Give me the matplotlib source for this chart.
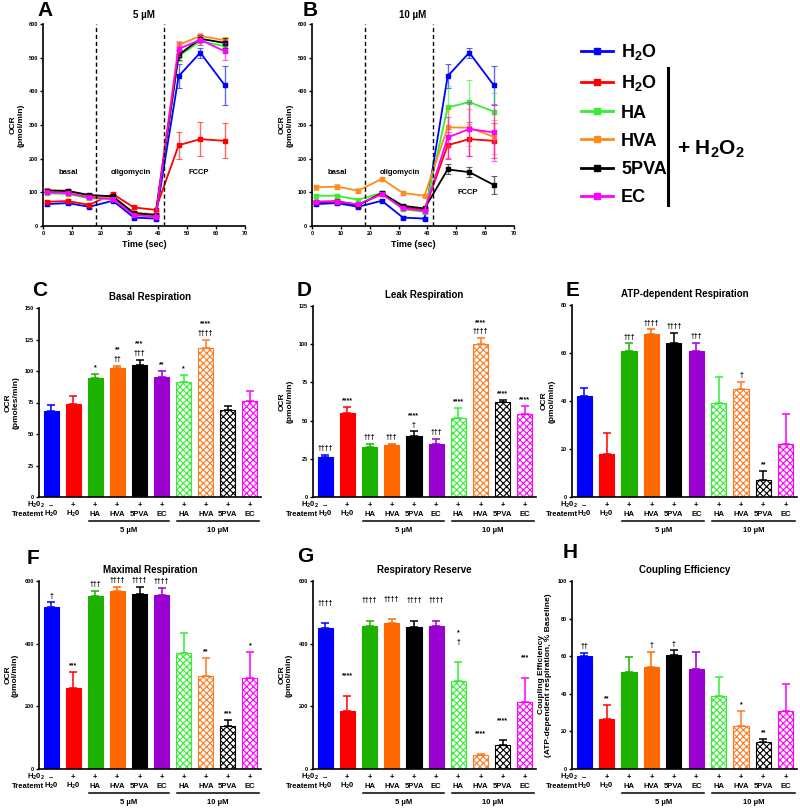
import numpy as np
import matplotlib.pyplot as plt
from matplotlib.lines import Line2D

plt.rcParams['font.family'] = ['Liberation Sans', 'DejaVu Sans']
plt.rcParams['font.weight'] = 'bold'
plt.rcParams['axes.labelweight'] = 'bold'
plt.rcParams['axes.titleweight'] = 'bold'
plt.rcParams['mathtext.fontset'] = 'custom'
plt.rcParams['mathtext.rm'] = 'Liberation Sans:bold'
plt.rcParams['mathtext.it'] = 'Liberation Sans:bold'
plt.rcParams['mathtext.bf'] = 'Liberation Sans:bold'
plt.rcParams['mathtext.default'] = 'rm'
plt.rcParams['hatch.linewidth'] = 0.8

# ---- time course data (OCR, pmol/min) ----
time = [1.3, 8.6, 16.0, 24.2, 31.5, 39.0, 47.0, 54.5, 63.0]
series_names = ['H$_2$O', 'H$_2$O', 'HA', 'HVA', '5PVA', 'EC']
line_colors = ['#0000FF', '#FF0000', '#33EE33', '#FF8C1A', '#000000', '#FF00FF']

a_vals = [
    [65, 68, 57, 75, 25, 22, 445, 515, 418],
    [72, 74, 63, 95, 55, 48, 240, 258, 253],
    [97, 95, 82, 80, 35, 30, 504, 549, 534],
    [107, 105, 88, 83, 40, 35, 538, 564, 552],
    [105, 104, 92, 88, 38, 33, 508, 556, 544],
    [100, 98, 85, 80, 32, 28, 526, 553, 519],
]
a_errs = [
    [5, 5, 5, 5, 4, 4, 35, 15, 58],
    [6, 6, 5, 6, 4, 4, 40, 50, 52],
    [5, 5, 5, 5, 4, 4, 15, 12, 18],
    [5, 5, 5, 5, 4, 4, 12, 8, 10],
    [5, 5, 5, 5, 4, 4, 15, 10, 15],
    [5, 5, 5, 5, 4, 4, 20, 15, 25],
]
b_vals = [
    [65, 68, 57, 75, 25, 22, 445, 515, 418],
    [72, 74, 63, 95, 55, 48, 240, 258, 253],
    [90, 90, 78, 98, 50, 42, 352, 368, 340],
    [115, 117, 105, 140, 98, 90, 293, 292, 265],
    [70, 72, 62, 98, 60, 52, 168, 160, 122],
    [72, 72, 64, 95, 52, 45, 263, 288, 278],
]
b_errs = [
    [5, 5, 5, 5, 4, 4, 35, 15, 58],
    [6, 6, 5, 6, 4, 4, 40, 50, 52],
    [6, 6, 6, 6, 5, 5, 65, 65, 55],
    [8, 7, 7, 6, 5, 5, 55, 55, 50],
    [5, 5, 5, 5, 4, 4, 15, 15, 27],
    [5, 5, 5, 5, 4, 4, 60, 80, 85],
]

# ---- bar data ----
treatments = ['H$_2$0', 'H$_2$0', 'HA', 'HVA', '5PVA', 'EC', 'HA', 'HVA', '5PVA', 'EC']
h2o2 = ['\u2013', '+', '+', '+', '+', '+', '+', '+', '+', '+']
bar_colors = ['#0000FF', '#FF0000', '#1DB100', '#FF6A00', '#000000', '#9A00D0',
              '#33EE33', '#FF7A20', '#000000', '#FF00FF']
hatched = [False] * 6 + [True] * 4

basal = [68, 73.5, 94.5, 102, 104.5, 95, 91, 118, 69, 76]
basal_err = [5, 6.5, 3, 2, 4.5, 5, 5.5, 7, 3, 8]
basal_ann = ['', '', '*', '**\n\u2020\u2020', '***\n\u2020\u2020\u2020', '**', '*',
             '****\n\u2020\u2020\u2020\u2020', '', '']

leak = [26, 55, 33, 34, 40, 35, 52, 100, 62, 54]
leak_err = [1.5, 4, 2, 1, 3, 3, 6.5, 4, 1.5, 5.5]
leak_ann = ['\u2020\u2020\u2020\u2020', '****', '\u2020\u2020\u2020', '\u2020\u2020\u2020',
            '****\n\u2020', '\u2020\u2020\u2020', '****', '****\n\u2020\u2020\u2020\u2020', '****', '****']

atp = [42, 18, 61, 67.8, 64.3, 61, 39, 45, 7, 22]
atp_err = [3.5, 8.5, 3, 2, 4.2, 3.3, 11, 3, 4, 12.5]
atp_ann = ['', '', '\u2020\u2020\u2020', '\u2020\u2020\u2020\u2020', '\u2020\u2020\u2020\u2020',
           '\u2020\u2020\u2020', '', '\u2020', '**', '']

maximal = [516, 260, 553, 568, 558, 556, 371, 296, 137, 290]
maximal_err = [16, 50, 15, 14, 23, 23, 64, 59, 19, 84]
maximal_ann = ['\u2020', '***', '\u2020\u2020\u2020', '\u2020\u2020\u2020\u2020', '\u2020\u2020\u2020\u2020',
               '\u2020\u2020\u2020\u2020', '', '**', '***', '*']

reserve = [449, 186, 457, 465, 454, 457, 280, 45, 78, 214]
reserve_err = [16, 46, 15, 13, 19, 15, 60, 3, 13, 76]
reserve_ann = ['\u2020\u2020\u2020\u2020', '****', '\u2020\u2020\u2020\u2020', '\u2020\u2020\u2020\u2020',
               '\u2020\u2020\u2020\u2020', '\u2020\u2020\u2020\u2020', '*\n\u2020', '****', '****', '***']

coupling = [60, 26.5, 51.5, 54, 60.5, 53, 39, 22.8, 14.6, 31]
coupling_err = [1.8, 7.8, 8, 8.5, 2.6, 9.5, 10, 8.3, 1.6, 14]
coupling_ann = ['\u2020\u2020', '**', '', '\u2020', '\u2020', '', '', '*', '**', '']

W, H = 800, 809
fig = plt.figure(figsize=(8, 8.09), dpi=100)


def rect(x0, x1, ytop, ybot):
    return [x0 / W, 1 - ybot / H, (x1 - x0) / W, (ybot - ytop) / H]


def style_axes(ax):
    for s in ['top', 'right']:
        ax.spines[s].set_visible(False)
    for s in ['left', 'bottom']:
        ax.spines[s].set_linewidth(1.2)
    ax.tick_params(labelsize=4, length=2.5, width=1, pad=1)


def time_panel(r, vals, errs, title, fccp_y):
    ax = fig.add_axes(r)
    for v, e, c in zip(vals, errs, line_colors):
        ax.errorbar(time, v, yerr=e, fmt='none', ecolor=c, elinewidth=1, capsize=2,
                    capthick=0.8, alpha=0.6)
        ax.plot(time, v, color=c, lw=1.3, marker='s', ms=2.8)
    ax.axvline(18.4, color='k', ls='--', lw=1, dashes=(3, 2))
    ax.axvline(42.0, color='k', ls='--', lw=1, dashes=(3, 2))
    ax.set_xlim(0, 70)
    ax.set_ylim(0, 600)
    ax.set_xticks(range(0, 71, 10))
    ax.set_yticks(range(0, 601, 100))
    ax.set_xlabel('Time (sec)', fontsize=6.5, labelpad=3)
    ax.set_ylabel('OCR\n(pmol/min)', fontsize=6, labelpad=3)
    ax.set_title(title, fontsize=7, pad=4)
    ax.text(8.7, 160, 'basal', fontsize=5.5, ha='center', va='center')
    ax.text(30.5, 160, 'oligomycin', fontsize=5.5, ha='center', va='center')
    ax.text(54, fccp_y, 'FCCP', fontsize=5.5, ha='center', va='center')
    style_axes(ax)
    return ax


def bar_panel(r, vals, errs, ann, ymax, ystep, title, ylabel, ann_pad=2, ylabel_fs=6):
    ax = fig.add_axes(r)
    x = np.arange(len(vals))
    for i in range(len(vals)):
        c = bar_colors[i]
        if hatched[i]:
            ax.bar(x[i], vals[i], width=0.68, facecolor='white', edgecolor=c,
                   hatch='xxxxx', linewidth=0.8, zorder=2)
        else:
            ax.bar(x[i], vals[i], width=0.68, color=c, edgecolor=c, linewidth=0.8, zorder=2)
        ax.errorbar(x[i], vals[i], yerr=[[0], [errs[i]]], fmt='none', ecolor=c,
                    elinewidth=1.1, capsize=3.2, capthick=1.1, zorder=1)
        if ann[i]:
            ax.annotate(ann[i], (x[i], vals[i] + errs[i]), xytext=(0, ann_pad),
                        textcoords='offset points', ha='center', va='bottom',
                        fontsize=5, linespacing=1.5)
    ax.set_xlim(-0.55, 9.5)
    ax.set_ylim(0, ymax)
    ax.set_yticks(np.arange(0, ymax + 0.1, ystep))
    ax.set_xticks([])
    ax.set_title(title, fontsize=7, pad=6)
    ax.set_ylabel(ylabel, fontsize=ylabel_fs, labelpad=4, linespacing=1.1)
    style_axes(ax)
    xt = ax.get_xaxis_transform()
    for i in x:
        ax.annotate(h2o2[i], (i, 0), xycoords=xt, xytext=(0, -6), textcoords='offset points',
                    ha='center', va='center', fontsize=5.5)
        ax.annotate(treatments[i], (i, 0), xycoords=xt, xytext=(0, -12.5),
                    textcoords='offset points', ha='center', va='center', fontsize=5.5)
    ax.annotate('H$_2$0$_2$', (-0.3, 0), xycoords=xt, xytext=(0, -6), textcoords='offset points',
                ha='right', va='center', fontsize=5.5)
    ax.annotate('Treatemt', (-0.3, 0), xycoords=xt, xytext=(0, -12.5), textcoords='offset points',
                ha='right', va='center', fontsize=5.5)
    hpx = ax.get_position().height * H
    for x0, x1, lab in [(1.7, 5.35, '5 \u00b5M'), (5.7, 9.4, '10 \u00b5M')]:
        ax.plot([x0, x1], [-24 / hpx] * 2, transform=xt, color='k', lw=1.1, clip_on=False)
        ax.text((x0 + x1) / 2, -33 / hpx, lab, transform=xt, ha='center', va='center', fontsize=5.5)
    return ax


# ---- panels A / B ----
time_panel(rect(43, 245, 24, 226), a_vals, a_errs, '5 \u00b5M', 160)
time_panel(rect(312, 514, 24, 226), b_vals, b_errs, '10 \u00b5M', 100)

# legend
handles = [Line2D([], [], color=c, lw=2, marker='s', ms=4) for c in line_colors]
fig.legend(handles, series_names, loc='upper left', bbox_to_anchor=(574 / W, 1 - 35 / H),
           frameon=False, prop={'size': 13, 'weight': 'bold'}, handlelength=1.75,
           handletextpad=0.45, labelspacing=0.62, borderaxespad=0)
fig.add_artist(Line2D([668 / W, 668 / W], [1 - 68 / H, 1 - 205 / H], color='k', lw=2.2))
fig.text(677 / W, 1 - 149 / H, '+ H$_2$O$_2$', fontsize=15, va='center', ha='left')

# ---- bar panels ----
bar_panel(rect(39, 261, 308, 497), basal, basal_err, basal_ann, 150, 25,
          'Basal Respiration', 'OCR\n(pmoles/min)')
bar_panel(rect(313, 536, 306, 497), leak, leak_err, leak_ann, 125, 25,
          'Leak Respiration', 'OCR\n(pmol/min)')
bar_panel(rect(572, 797, 305, 497), atp, atp_err, atp_ann, 80, 20,
          'ATP-dependent Respiration', 'OCR\n(pmol/min)')
bar_panel(rect(39, 261, 581, 769), maximal, maximal_err, maximal_ann, 600, 200,
          'Maximal Respiration', 'OCR\n(pmol/min)')
bar_panel(rect(313, 536, 581, 769), reserve, reserve_err, reserve_ann, 600, 200,
          'Respiratory Reserve', 'OCR\n(pmol/min)', ann_pad=12)
bar_panel(rect(572, 797, 581, 769), coupling, coupling_err, coupling_ann, 100, 20,
          'Coupling Efficiency', 'Coupling Efficiency\n(ATP-dependent respiration, % Baseline)',
          ylabel_fs=6)

# panel letters
for lab, px, py in [('A', 37, 10), ('B', 303, 10), ('C', 32, 290), ('D', 297, 291),
                    ('E', 566, 291), ('F', 27, 558), ('G', 297, 557), ('H', 563, 552)]:
    fig.text(px / W, 1 - py / H, lab, fontsize=15, fontweight='bold', va='center', ha='left')

fig.savefig('out.png', dpi=100)
